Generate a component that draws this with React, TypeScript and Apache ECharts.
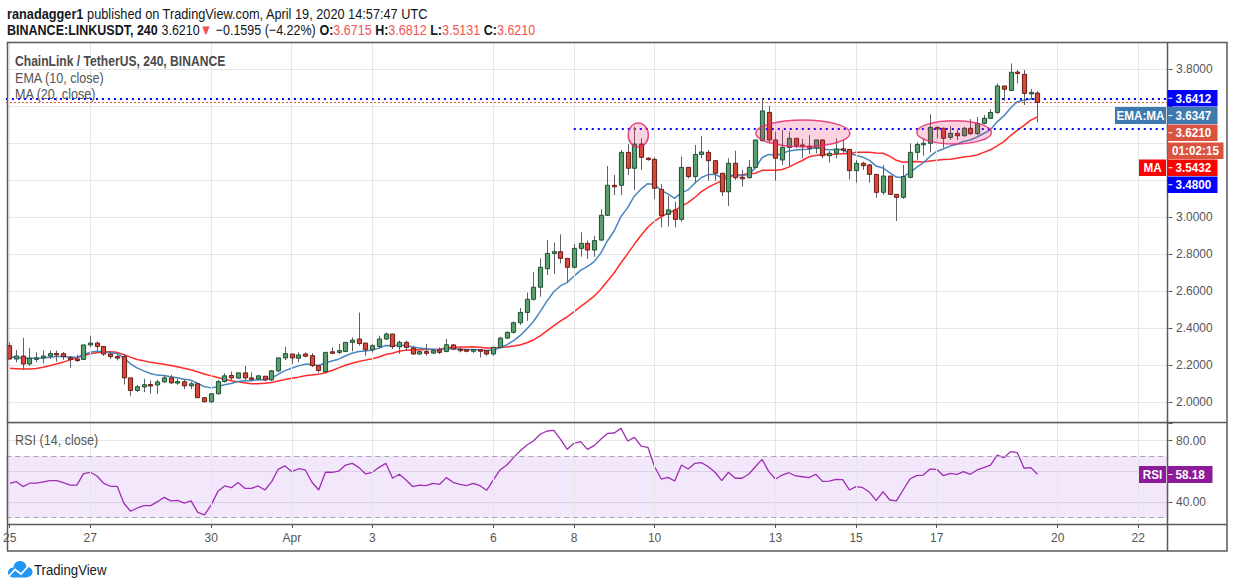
import React, { useEffect, useRef } from "react";
import * as echarts from "echarts";

// ---- data (4h candles from Mar 25 00:00 to Apr 19 12:00) ----
const opens = [
  2.306, 2.234, 2.25, 2.207, 2.238, 2.24, 2.25, 2.264, 2.263, 2.241,
  2.234, 2.232, 2.31, 2.32, 2.302, 2.261, 2.247, 2.247, 2.132, 2.064,
  2.083, 2.096, 2.094, 2.111, 2.132, 2.105, 2.111, 2.089, 2.1, 2.025,
  2.003, 2.046, 2.112, 2.145, 2.131, 2.159, 2.132, 2.126, 2.141, 2.121,
  2.17, 2.24, 2.261, 2.238, 2.261, 2.252, 2.198, 2.165, 2.273, 2.27,
  2.275, 2.324, 2.342, 2.32, 2.284, 2.302, 2.342, 2.369, 2.3, 2.324,
  2.293, 2.261, 2.274, 2.266, 2.283, 2.275, 2.31, 2.287, 2.284, 2.277,
  2.284, 2.279, 2.261, 2.297, 2.347, 2.378, 2.43, 2.486, 2.557, 2.622,
  2.722, 2.805, 2.814, 2.778, 2.73, 2.832, 2.859, 2.823, 2.877, 3.011,
  3.173, 3.173, 3.351, 3.265, 3.396, 3.32, 3.313, 3.151, 3.016, 3.04,
  2.989, 3.27, 3.22, 3.34, 3.351, 3.306, 3.238, 3.138, 3.292, 3.216,
  3.214, 3.27, 3.414, 3.567, 3.418, 3.31, 3.378, 3.427, 3.391, 3.385,
  3.374, 3.418, 3.333, 3.346, 3.37, 3.367, 3.252, 3.292, 3.283, 3.232,
  3.135, 3.223, 3.124, 3.108, 3.216, 3.351, 3.394, 3.4, 3.486, 3.481,
  3.432, 3.454, 3.441, 3.481, 3.452, 3.508, 3.535, 3.567, 3.71, 3.686,
  3.785, 3.773, 3.67, 3.6715,
];
const closes = [
  2.234, 2.25, 2.207, 2.238, 2.24, 2.25, 2.263, 2.262, 2.247, 2.232,
  2.232, 2.31, 2.32, 2.302, 2.261, 2.247, 2.245, 2.132, 2.064, 2.084,
  2.095, 2.094, 2.11, 2.132, 2.105, 2.112, 2.089, 2.1, 2.025, 2.003,
  2.046, 2.112, 2.143, 2.132, 2.159, 2.132, 2.125, 2.143, 2.121, 2.17,
  2.24, 2.263, 2.24, 2.256, 2.249, 2.198, 2.172, 2.27, 2.271, 2.279,
  2.324, 2.336, 2.318, 2.284, 2.306, 2.342, 2.369, 2.301, 2.324, 2.297,
  2.261, 2.274, 2.265, 2.279, 2.27, 2.311, 2.288, 2.284, 2.277, 2.284,
  2.278, 2.261, 2.297, 2.347, 2.378, 2.43, 2.486, 2.557, 2.622, 2.73,
  2.805, 2.814, 2.778, 2.73, 2.832, 2.859, 2.823, 2.874, 3.011, 3.173,
  3.171, 3.351, 3.265, 3.396, 3.324, 3.315, 3.157, 3.009, 3.04, 2.989,
  3.27, 3.22, 3.34, 3.353, 3.306, 3.238, 3.138, 3.292, 3.214, 3.214,
  3.27, 3.418, 3.575, 3.418, 3.319, 3.378, 3.427, 3.387, 3.382, 3.374,
  3.418, 3.333, 3.346, 3.369, 3.365, 3.252, 3.292, 3.279, 3.232, 3.135,
  3.223, 3.124, 3.108, 3.22, 3.351, 3.394, 3.4, 3.486, 3.48, 3.427,
  3.454, 3.441, 3.481, 3.452, 3.508, 3.535, 3.567, 3.71, 3.692, 3.784,
  3.778, 3.67, 3.675, 3.621,
];
const lows = [
  2.23, 2.216, 2.175, 2.197, 2.216, 2.21, 2.234, 2.22, 2.23, 2.186,
  2.218, 2.23, 2.297, 2.279, 2.25, 2.234, 2.226, 2.096, 2.035, 2.055,
  2.055, 2.046, 2.046, 2.104, 2.1, 2.095, 2.071, 2.071, 2.023, 2.0,
  1.997, 2.043, 2.107, 2.118, 2.127, 2.121, 2.118, 2.118, 2.114, 2.114,
  2.162, 2.228, 2.207, 2.216, 2.243, 2.19, 2.16, 2.155, 2.26, 2.26,
  2.27, 2.275, 2.306, 2.252, 2.27, 2.288, 2.336, 2.288, 2.262, 2.279,
  2.258, 2.257, 2.252, 2.261, 2.261, 2.27, 2.282, 2.27, 2.27, 2.266,
  2.243, 2.252, 2.252, 2.293, 2.342, 2.372, 2.418, 2.44, 2.55, 2.571,
  2.688, 2.694, 2.751, 2.647, 2.724, 2.787, 2.775, 2.787, 2.874, 3.007,
  3.12, 3.12, 3.229, 3.148, 3.256, 3.306, 3.099, 2.946, 2.949, 2.946,
  2.976, 3.21, 3.184, 3.319, 3.198, 3.198, 3.115, 3.061, 3.202, 3.166,
  3.21, 3.265, 3.41, 3.403, 3.198, 3.283, 3.274, 3.373, 3.319, 3.342,
  3.346, 3.319, 3.295, 3.319, 3.346, 3.205, 3.187, 3.256, 3.187, 3.106,
  3.121, 3.121, 2.98, 3.1, 3.21, 3.31, 3.333, 3.351, 3.427, 3.376,
  3.418, 3.418, 3.436, 3.445, 3.445, 3.502, 3.531, 3.56, 3.63, 3.683,
  3.724, 3.607, 3.643, 3.5131,
];
const highs = [
  2.324, 2.283, 2.349, 2.293, 2.27, 2.28, 2.279, 2.28, 2.272, 2.25,
  2.257, 2.31, 2.36, 2.329, 2.304, 2.27, 2.26, 2.261, 2.132, 2.094,
  2.127, 2.118, 2.122, 2.148, 2.148, 2.127, 2.127, 2.112, 2.103, 2.025,
  2.05, 2.12, 2.157, 2.166, 2.16, 2.197, 2.162, 2.146, 2.141, 2.175,
  2.24, 2.3, 2.261, 2.27, 2.27, 2.266, 2.198, 2.27, 2.297, 2.315,
  2.324, 2.35, 2.485, 2.32, 2.315, 2.36, 2.378, 2.369, 2.333, 2.333,
  2.306, 2.279, 2.315, 2.288, 2.297, 2.342, 2.315, 2.293, 2.288, 2.288,
  2.288, 2.283, 2.3, 2.354, 2.383, 2.437, 2.51, 2.593, 2.703, 2.778,
  2.877, 2.863, 2.908, 2.778, 2.856, 2.919, 2.874, 2.899, 3.043, 3.277,
  3.229, 3.364, 3.396, 3.49, 3.427, 3.324, 3.324, 3.18, 3.115, 3.085,
  3.328, 3.27, 3.391, 3.439, 3.364, 3.306, 3.238, 3.319, 3.36, 3.256,
  3.31, 3.418, 3.643, 3.602, 3.463, 3.472, 3.463, 3.427, 3.423, 3.445,
  3.418, 3.421, 3.358, 3.427, 3.421, 3.367, 3.31, 3.301, 3.288, 3.232,
  3.283, 3.223, 3.124, 3.283, 3.4, 3.405, 3.427, 3.556, 3.49, 3.485,
  3.494, 3.472, 3.49, 3.531, 3.542, 3.553, 3.585, 3.724, 3.71, 3.832,
  3.796, 3.796, 3.693, 3.6812,
];
const emaValues = [
  2.243, 2.245, 2.238, 2.238, 2.238, 2.24, 2.244, 2.247, 2.247, 2.245,
  2.243, 2.257, 2.27, 2.276, 2.273, 2.268, 2.264, 2.241, 2.209, 2.186,
  2.17, 2.156, 2.147, 2.145, 2.138, 2.133, 2.125, 2.12, 2.103, 2.085,
  2.078, 2.084, 2.095, 2.102, 2.112, 2.116, 2.117, 2.122, 2.122, 2.131,
  2.151, 2.171, 2.184, 2.197, 2.206, 2.205, 2.199, 2.212, 2.223, 2.233,
  2.25, 2.265, 2.275, 2.277, 2.282, 2.293, 2.307, 2.306, 2.309, 2.307,
  2.299, 2.294, 2.289, 2.287, 2.284, 2.289, 2.289, 2.288, 2.286, 2.286,
  2.284, 2.28, 2.283, 2.295, 2.31, 2.332, 2.36, 2.396, 2.437, 2.49,
  2.547, 2.596, 2.629, 2.647, 2.681, 2.713, 2.733, 2.759, 2.805, 2.872,
  2.926, 3.003, 3.051, 3.114, 3.152, 3.182, 3.177, 3.146, 3.127, 3.102,
  3.132, 3.148, 3.184, 3.215, 3.231, 3.232, 3.215, 3.229, 3.226, 3.224,
  3.232, 3.266, 3.322, 3.34, 3.336, 3.344, 3.359, 3.364, 3.367, 3.368,
  3.377, 3.369, 3.365, 3.366, 3.366, 3.345, 3.335, 3.325, 3.308, 3.277,
  3.267, 3.241, 3.217, 3.218, 3.242, 3.27, 3.294, 3.329, 3.356, 3.369,
  3.385, 3.395, 3.41, 3.418, 3.434, 3.453, 3.473, 3.516, 3.548, 3.591,
  3.625, 3.633, 3.641, 3.635,
];
const maValues = [
  2.184, 2.182, 2.18, 2.18, 2.183, 2.19, 2.198, 2.207, 2.217, 2.228,
  2.24, 2.252, 2.262, 2.268, 2.272, 2.273, 2.27, 2.258, 2.244, 2.231,
  2.224, 2.216, 2.211, 2.206, 2.199, 2.192, 2.184, 2.176, 2.165, 2.153,
  2.144, 2.134, 2.125, 2.117, 2.111, 2.106, 2.1, 2.1, 2.103, 2.107,
  2.115, 2.123, 2.13, 2.136, 2.143, 2.147, 2.151, 2.16, 2.172, 2.186,
  2.2, 2.211, 2.22, 2.228, 2.235, 2.245, 2.258, 2.265, 2.276, 2.282,
  2.283, 2.284, 2.285, 2.286, 2.287, 2.293, 2.298, 2.299, 2.299, 2.3,
  2.297, 2.294, 2.293, 2.296, 2.299, 2.304, 2.31, 2.322, 2.337, 2.359,
  2.386, 2.413, 2.439, 2.461, 2.489, 2.517, 2.544, 2.573, 2.61, 2.654,
  2.699, 2.753, 2.802, 2.854, 2.902, 2.946, 2.979, 3.002, 3.023, 3.036,
  3.059, 3.079, 3.107, 3.139, 3.162, 3.181, 3.197, 3.218, 3.228, 3.23,
  3.235, 3.238, 3.254, 3.255, 3.255, 3.258, 3.271, 3.29, 3.307, 3.327,
  3.334, 3.34, 3.34, 3.341, 3.344, 3.344, 3.352, 3.352, 3.352, 3.348,
  3.346, 3.331, 3.308, 3.298, 3.3, 3.301, 3.299, 3.304, 3.309, 3.312,
  3.314, 3.319, 3.326, 3.33, 3.337, 3.351, 3.365, 3.386, 3.409, 3.442,
  3.47, 3.497, 3.525, 3.5432,
];
const rsiValues = [
  52.3, 53.4, 50.2, 52.5, 52.5, 53.2, 54.1, 54.1, 52.8, 51.2,
  51.2, 58.6, 59.5, 57.1, 52.3, 50.4, 50.4, 39.4, 34.2, 36.3,
  37.8, 37.8, 40.4, 43.2, 40.9, 41.3, 39.4, 40.9, 33.5, 31.8,
  38.3, 47.1, 50.6, 49.5, 52.8, 49.1, 49.1, 50.6, 48.0, 53.4,
  61.6, 63.6, 59.9, 61.8, 61.0, 53.0, 48.0, 59.5, 59.5, 60.3,
  64.2, 65.3, 62.5, 58.4, 59.5, 62.7, 65.3, 55.6, 58.2, 54.5,
  50.2, 51.2, 50.8, 52.3, 51.7, 56.0, 53.0, 51.7, 50.8, 52.3,
  50.8, 47.8, 54.5, 61.0, 64.2, 69.0, 73.5, 77.2, 80.0, 84.3,
  86.3, 86.7, 80.9, 74.4, 78.3, 79.4, 74.4, 76.8, 80.9, 84.8,
  85.0, 88.0, 79.8, 82.2, 76.5, 75.7, 63.1, 55.1, 56.2, 53.8,
  64.2, 61.6, 65.3, 65.7, 63.1, 59.5, 54.1, 59.5, 55.6, 55.6,
  58.2, 63.1, 67.9, 59.9, 55.1, 57.7, 59.2, 57.1, 56.6, 56.0,
  58.2, 53.6, 53.8, 54.9, 54.7, 48.0, 50.2, 49.5, 46.5, 41.1,
  46.9, 41.5, 40.9, 48.0, 55.1, 57.3, 57.7, 61.6, 61.4, 57.3,
  58.8, 58.2, 59.9, 58.2, 61.0, 62.5, 64.2, 70.7, 69.0, 72.9,
  72.2, 62.1, 62.5, 58.18,
];

const slotCount = 173;
const tickIndex = [0, 12, 30, 42, 54, 72, 84, 96, 114, 126, 138, 156, 168];
const tickText = ["25", "27", "30", "Apr", "3", "6", "8", "10", "13", "15", "17", "20", "22"];
// price labels hidden behind the right-hand label boxes in the reference
const coveredPriceTicks = [3.2, 3.4, 3.6];

const resistanceLevel = 3.6412;
const supportLevel = 3.48;
const supportStartIndex = 84;
const lastPrice = 3.621;
const rsiUpper = 70;
const rsiLower = 30;

const ellipseCenterIndex = [93.6, 118.1, 140.6];
const ellipseCenterPrice = [3.445, 3.454, 3.459];
const ellipseHalfSpan = [1.5, 7.0, 5.55];
const ellipseHalfPrice = [0.065, 0.072, 0.063];

const FONT = '"Liberation Sans Narrow","Arial Narrow","Liberation Sans",Arial,sans-serif';

const UP_FILL = "#5a9d6e";
const UP_BORDER = "#1d5130";
const DOWN_FILL = "#d4493a";
const DOWN_BORDER = "#6b1b13";
const WICK = "#5d606b";

function labelBox(x: number, y: number, w: number, h: number, fill: string, text: string, tick: boolean, align: string = "left") {
  const items: any[] = [
    { type: "rect", silent: true, z: 200, shape: { x, y, width: w, height: h }, style: { fill } },
    {
      type: "text", silent: true, z: 201,
      x: align === "left" ? x + 8 : x + w / 2,
      y: y + h / 2 + 0.5,
      scaleX: 0.9,
      style: { text, fill: "#ffffff", fontFamily: FONT, fontSize: 13, fontWeight: "bold", align: align === "left" ? "left" : "center", verticalAlign: "middle" },
    },
  ];
  if (tick) {
    items.push({ type: "line", silent: true, z: 201, shape: { x1: x + 1, y1: y + h / 2, x2: x + 5, y2: y + h / 2 }, style: { stroke: "#ffffff", lineWidth: 1 } });
  }
  return items;
}

export default function App() {
  const ref = useRef<HTMLDivElement>(null);

  useEffect(() => {
    if (!ref.current) return;
    const chart = echarts.init(ref.current, null, { renderer: "svg" });
    const categories = Array.from({ length: slotCount }, (_, i) => String(i));
    const candleData = opens.map((o, i) => [i, o, closes[i], lows[i], highs[i]]);
    const gridLeft = 5.94;
    const gridWidth = slotCount * 6.72;
    const vLines = tickIndex.map((i) => ({ xAxis: i }));

    const option: any = {
      animation: false,
      backgroundColor: "#ffffff",
      grid: [
        { left: gridLeft, top: 42, width: gridWidth, height: 380 },
        { left: gridLeft, top: 423, width: gridWidth, height: 101 },
      ],
      xAxis: [
        {
          type: "category", gridIndex: 0, data: categories, boundaryGap: true,
          axisLine: { show: false }, axisTick: { show: false }, axisLabel: { show: false }, splitLine: { show: false },
        },
        {
          type: "category", gridIndex: 1, data: categories, boundaryGap: true,
          axisLine: { show: false },
          axisTick: { show: true, alignWithLabel: true, length: 4, interval: (i: number) => tickIndex.includes(i), lineStyle: { color: "#555" } },
          axisLabel: {
            show: true, interval: (i: number) => tickIndex.includes(i),
            formatter: (_v: string, i: number) => { const k = tickIndex.indexOf(i); return k >= 0 ? tickText[k] : ""; },
            color: "#555", fontSize: 12, fontFamily: FONT, margin: 8,
          },
          splitLine: { show: false },
        },
      ],
      yAxis: [
        {
          type: "value", gridIndex: 0, position: "right", min: 1.8935, max: 3.9476, splitNumber: 10,
          axisLine: { show: false },
          axisTick: { show: true, length: 4, lineStyle: { color: "#555" } },
          axisLabel: {
            show: true, showMinLabel: false, showMaxLabel: false, margin: 7.5, color: "#555", fontSize: 12, fontFamily: FONT,
            formatter: (v: number) => (coveredPriceTicks.some((t) => Math.abs(t - v) < 1e-6) ? "" : v.toFixed(4)),
          },
          splitLine: { show: true, lineStyle: { color: "#e6e6e6", width: 1 } },
        },
        {
          type: "value", gridIndex: 1, position: "right", min: 25.9, max: 91.5, splitNumber: 3,
          axisLine: { show: false },
          axisTick: { show: true, length: 4, lineStyle: { color: "#555" } },
          axisLabel: {
            show: true, margin: 7.5, color: "#555", fontSize: 12, fontFamily: FONT,
            formatter: (v: number) => (Math.abs(v - 40) < 0.01 || Math.abs(v - 80) < 0.01 ? v.toFixed(2) : ""),
          },
          splitLine: { show: true, lineStyle: { color: "#e6e6e6", width: 1 } },
        },
      ],
      series: [
        {
          type: "line", xAxisIndex: 0, yAxisIndex: 0, data: [], z: 1, silent: true,
          markLine: { silent: true, symbol: "none", label: { show: false }, lineStyle: { color: "#e6e6e6", width: 1, type: "solid" }, data: vLines },
        },
        {
          type: "line", xAxisIndex: 1, yAxisIndex: 1, data: [], z: 1, silent: true,
          markLine: { silent: true, symbol: "none", label: { show: false }, lineStyle: { color: "#e6e6e6", width: 1, type: "solid" }, data: vLines },
          markArea: { silent: true, itemStyle: { color: "rgba(149, 40, 232, 0.11)" }, data: [[{ yAxis: rsiUpper }, { yAxis: rsiLower }]] },
        },
        {
          type: "line", name: "MA", xAxisIndex: 0, yAxisIndex: 0, data: maValues, showSymbol: false, z: 3,
          lineStyle: { color: "#ff2b2b", width: 1.5 }, silent: true,
        },
        {
          type: "line", name: "EMA", xAxisIndex: 0, yAxisIndex: 0, data: emaValues, showSymbol: false, z: 3,
          lineStyle: { color: "#4a86bf", width: 1.5 }, silent: true,
        },
        {
          type: "custom", name: "LINKUSDT", xAxisIndex: 0, yAxisIndex: 0, data: candleData, z: 5, silent: true,
          encode: { x: 0, y: [1, 2, 3, 4] },
          renderItem: (_params: any, api: any) => {
            const i = api.value(0);
            const o = api.value(1);
            const c = api.value(2);
            const l = api.value(3);
            const h = api.value(4);
            const pO = api.coord([i, o]);
            const pC = api.coord([i, c]);
            const pL = api.coord([i, l]);
            const pH = api.coord([i, h]);
            const w = api.size([1, 0])[0] * 0.62;
            const up = c >= o;
            const top = Math.min(pO[1], pC[1]);
            const bottom = Math.max(pO[1], pC[1]);
            const bh = Math.max(bottom - top, 1.5);
            const cx = Math.round(pO[0]) + 0.5;
            return {
              type: "group",
              children: [
                { type: "line", shape: { x1: cx, y1: pH[1], x2: cx, y2: pL[1] }, style: { stroke: WICK, lineWidth: 1 } },
                { type: "rect", shape: { x: cx - w / 2, y: top, width: w, height: bh }, style: { fill: up ? UP_FILL : DOWN_FILL, stroke: up ? UP_BORDER : DOWN_BORDER, lineWidth: 1 } },
              ],
            };
          },
          markLine: {
            silent: true, symbol: "none", label: { show: false },
            data: [
              { yAxis: lastPrice, lineStyle: { color: "#e0533d", width: 1, type: [2, 2] } },
              { yAxis: resistanceLevel, lineStyle: { color: "#0000ff", width: 2, type: [2, 4] } },
              [
                { coord: [supportStartIndex, supportLevel], lineStyle: { color: "#0000ff", width: 2, type: [2, 4] } },
                { coord: [slotCount - 1, supportLevel] },
              ],
            ],
          },
        },
        {
          type: "line", name: "RSI", xAxisIndex: 1, yAxisIndex: 1, data: rsiValues, showSymbol: false, z: 3, silent: true,
          lineStyle: { color: "#a02db4", width: 1.3 },
          markLine: {
            silent: true, symbol: "none", label: { show: false },
            lineStyle: { color: "#aaa3b3", width: 1, type: [5, 4] },
            data: [{ yAxis: rsiUpper }, { yAxis: rsiLower }],
          },
        },
      ],
    };
    chart.setOption(option);

    // ellipses placed through the chart's own scales
    const x0 = chart.convertToPixel({ xAxisIndex: 0 }, 0) as number;
    const x1 = chart.convertToPixel({ xAxisIndex: 0 }, 1) as number;
    const step = x1 - x0;
    const ellipses = ellipseCenterIndex.map((ci, k) => {
      const cy = chart.convertToPixel({ yAxisIndex: 0 }, ellipseCenterPrice[k]) as number;
      const ty = chart.convertToPixel({ yAxisIndex: 0 }, ellipseCenterPrice[k] + ellipseHalfPrice[k]) as number;
      return {
        type: "ellipse", silent: true, z: 50,
        shape: { cx: x0 + ci * step, cy, rx: ellipseHalfSpan[k] * step, ry: Math.abs(cy - ty) },
        style: { fill: "rgba(233, 30, 99, 0.2)", stroke: "rgba(228, 40, 110, 0.85)", lineWidth: 1.5 },
      };
    });

    const frame = "#5a5a5a";
    const g: any[] = [
      ...ellipses,
      { type: "rect", silent: true, z: 150, shape: { x: 7.5, y: 42.5, width: 1219.5, height: 508.5 }, style: { fill: "none", stroke: frame, lineWidth: 1.5 } },
      { type: "line", silent: true, z: 150, shape: { x1: 1167.5, y1: 42, x2: 1167.5, y2: 551 }, style: { stroke: frame, lineWidth: 1.5 } },
      { type: "line", silent: true, z: 150, shape: { x1: 7, y1: 422.5, x2: 1227, y2: 422.5 }, style: { stroke: frame, lineWidth: 1.5 } },
      { type: "line", silent: true, z: 150, shape: { x1: 7, y1: 524.5, x2: 1227, y2: 524.5 }, style: { stroke: frame, lineWidth: 1.5 } },
      {
        type: "text", silent: true, z: 150, x: 7, y: 14, scaleX: 0.85,
        style: {
          text: "{b|ranadagger1}{n| published on TradingView.com, April 19, 2020 14:57:47 UTC}",
          verticalAlign: "middle",
          rich: {
            b: { fontFamily: FONT, fontSize: 15, fontWeight: "bold", fill: "#131722" },
            n: { fontFamily: FONT, fontSize: 15, fill: "#131722" },
          },
        },
      },
      {
        type: "text", silent: true, z: 150, x: 7, y: 30, scaleX: 0.835,
        style: {
          text: "{b|BINANCE:LINKUSDT, 240}{n| 3.6210}{r|▼}{n| −0.1595 (−4.22%) }{b|O:}{r|3.6715}{b| H:}{r|3.6812}{b| L:}{r|3.5131}{b| C:}{r|3.6210}",
          verticalAlign: "middle",
          rich: {
            b: { fontFamily: FONT, fontSize: 15, fontWeight: "bold", fill: "#131722" },
            n: { fontFamily: FONT, fontSize: 15, fill: "#131722" },
            r: { fontFamily: FONT, fontSize: 15, fill: "#ef5350" },
          },
        },
      },
      { type: "text", silent: true, z: 150, x: 15, y: 61, scaleX: 0.865, style: { text: "ChainLink / TetherUS, 240, BINANCE", fill: "#4a4a4a", fontFamily: FONT, fontSize: 14, fontWeight: "bold", verticalAlign: "middle" } },
      { type: "text", silent: true, z: 150, x: 15, y: 78, scaleX: 0.9, style: { text: "EMA (10, close)", fill: "#555", fontFamily: FONT, fontSize: 14, verticalAlign: "middle" } },
      { type: "text", silent: true, z: 150, x: 15, y: 94.5, scaleX: 0.9, style: { text: "MA (20, close)", fill: "#555", fontFamily: FONT, fontSize: 14, verticalAlign: "middle" } },
      { type: "text", silent: true, z: 150, x: 15, y: 440, scaleX: 0.9, style: { text: "RSI (14, close)", fill: "#555", fontFamily: FONT, fontSize: 14, verticalAlign: "middle" } },
      ...labelBox(1167.5, 90, 50, 16.5, "#0000ff", "3.6412", true),
      ...labelBox(1115, 107, 51, 17, "#3e7aae", "EMA:MA", false, "center"),
      ...labelBox(1167.5, 107, 50, 17, "#3e7aae", "3.6347", true),
      ...labelBox(1167.5, 124.5, 50, 16.5, "#d9533f", "3.6210", true),
      ...labelBox(1167.5, 142.5, 56, 16.5, "#d9533f", "01:02:15", false, "center"),
      ...labelBox(1139, 159.5, 27, 16.5, "#ff0000", "MA", false, "center"),
      ...labelBox(1167.5, 159.5, 50, 16.5, "#ff0000", "3.5432", true),
      ...labelBox(1167.5, 176.5, 50, 16.5, "#0000ff", "3.4800", true),
      ...labelBox(1139, 466, 27, 17, "#8d1a98", "RSI", false, "center"),
      ...labelBox(1167.5, 466, 45, 17, "#8d1a98", "58.18", true),
      // footer logo
      { type: "circle", silent: true, z: 150, shape: { cx: 13, cy: 572.5, r: 5 }, style: { fill: "#2196f3" } },
      { type: "circle", silent: true, z: 150, shape: { cx: 20, cy: 567.5, r: 6.5 }, style: { fill: "#2196f3" } },
      { type: "circle", silent: true, z: 150, shape: { cx: 27.5, cy: 572, r: 5 }, style: { fill: "#2196f3" } },
      { type: "rect", silent: true, z: 150, shape: { x: 13, y: 570, width: 14.5, height: 7.5 }, style: { fill: "#2196f3" } },
      { type: "polyline", silent: true, z: 151, shape: { points: [[9, 576], [15, 569.5], [21, 574], [28, 566.5]] }, style: { stroke: "#ffffff", lineWidth: 1.8, fill: "none" } },
      { type: "text", silent: true, z: 150, x: 34, y: 570, scaleX: 0.85, style: { text: "TradingView", fill: "#131722", fontFamily: FONT, fontSize: 15.5, verticalAlign: "middle" } },
    ];
    chart.setOption({ graphic: g });

    return () => chart.dispose();
  }, []);

  return (
    <div
      ref={ref}
      style={{ position: "absolute", left: 0, top: 0, width: 1234, height: 588, background: "#ffffff" }}
    />
  );
}
